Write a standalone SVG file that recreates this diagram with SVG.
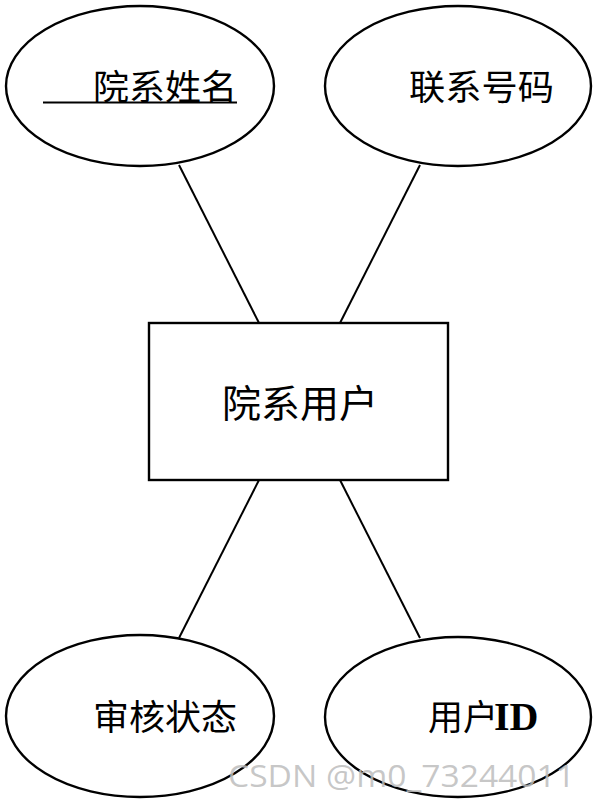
<svg xmlns="http://www.w3.org/2000/svg" width="596" height="802" viewBox="0 0 596 802">
<style>
.shape{fill:#fff;stroke:#000;stroke-width:2.4}
.edge{stroke:#000;stroke-width:2;fill:none}
.lbl{font-family:"Noto Sans CJK SC","Noto Sans CJK JP",sans-serif;font-size:35px;fill:#000}
.wm{font-family:"Open Sans","DejaVu Sans",sans-serif;font-size:31px;fill:#bdbdbd;fill-opacity:0.85}
</style>
<rect width="596" height="802" fill="#fff"/>
<g id="connectors">
<line class="edge" x1="179" y1="165" x2="259" y2="323"/>
<line class="edge" x1="420" y1="165" x2="340" y2="323"/>
<line class="edge" x1="259" y1="480" x2="179" y2="638"/>
<line class="edge" x1="340" y1="480" x2="420" y2="638"/>
</g>
<g id="attr-name">
<ellipse class="shape" cx="140" cy="86" rx="134" ry="80"/>
<text class="lbl" x="93" y="100" textLength="144" lengthAdjust="spacingAndGlyphs">院系姓名</text>
<line x1="43" y1="102.5" x2="237" y2="102.5" stroke="#000" stroke-width="1.8"/>
</g>
<g id="attr-phone">
<ellipse class="shape" cx="458" cy="86" rx="133" ry="80"/>
<text class="lbl" x="409" y="100" textLength="145" lengthAdjust="spacingAndGlyphs">联系号码</text>
</g>
<g id="entity">
<rect class="shape" x="149" y="323" width="299" height="157"/>
<text class="lbl" x="222" y="417" textLength="156" lengthAdjust="spacingAndGlyphs" style="font-size:38px">院系用户</text>
</g>
<g id="attr-status">
<ellipse class="shape" cx="140" cy="716" rx="134" ry="81"/>
<text class="lbl" x="93" y="730" textLength="144" lengthAdjust="spacingAndGlyphs">审核状态</text>
</g>
<g id="attr-id">
<ellipse class="shape" cx="458" cy="717" rx="133" ry="80"/>
<text class="lbl" x="428" y="730">用户<tspan font-family="Liberation Serif, serif" font-weight="bold" font-size="40" dx="-4">ID</tspan></text>
</g>
<text class="wm" x="228" y="787" textLength="347" lengthAdjust="spacingAndGlyphs">CSDN @m0_73244011</text>
</svg>
